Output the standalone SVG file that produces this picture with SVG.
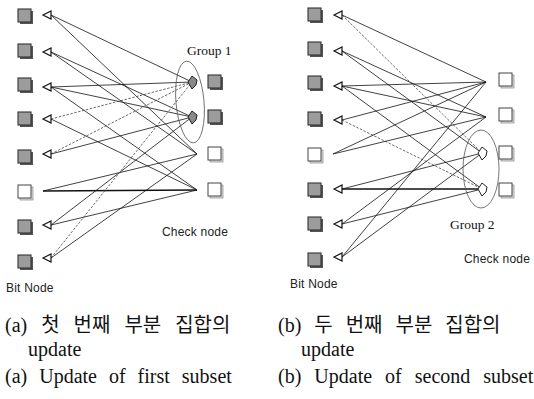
<svg xmlns="http://www.w3.org/2000/svg" width="534" height="399" viewBox="0 0 534 399">
<style>
.e{stroke:#111;stroke-width:0.8;fill:none}
.d{stroke:#444;stroke-width:0.8;fill:none;stroke-dasharray:2.5 1.5}
.t{stroke:#111;stroke-width:1.5;fill:none}
.g{fill:#9c9c9c;stroke:#333;stroke-width:1.1}
.gs{fill:#555}
.w{fill:#fff;stroke:#444;stroke-width:1}
.ws{fill:#ddd;stroke:#888;stroke-width:0.7}
.tri{fill:#fff;stroke:#111;stroke-width:1.2}
.dg{fill:#8a8a8a;stroke:#222;stroke-width:1}
.dw{fill:#fff;stroke:#222;stroke-width:1}
.el{fill:none;stroke:#555;stroke-width:0.8}
.lab{font-family:"Liberation Sans",Arial,sans-serif;font-size:12px;fill:#222;letter-spacing:0.2px}
.grp{font-family:"Liberation Serif","Times New Roman",serif;font-size:13.5px;fill:#111}
.cap{font-family:"Liberation Serif","Noto Sans CJK KR",serif;font-size:20px;fill:#111}
</style>

<!-- connectors -->
<g id="connectors">
  <!-- panel (a) -->
  <line class="e" x1="51" y1="15" x2="192" y2="82"/>
  <line class="e" x1="51" y1="15" x2="197" y2="154"/>
  <line class="e" x1="51" y1="52" x2="192" y2="117"/>
  <line class="e" x1="51" y1="52" x2="197" y2="154"/>
  <line class="e" x1="51" y1="87" x2="192" y2="82"/>
  <line class="e" x1="51" y1="87" x2="192" y2="117"/>
  <line class="e" x1="51" y1="87" x2="197" y2="190"/>
  <line class="d" x1="51" y1="119" x2="192" y2="82"/>
  <line class="e" x1="51" y1="119" x2="197" y2="190"/>
  <line class="d" x1="51" y1="154" x2="192" y2="82"/>
  <line class="e" x1="51" y1="154" x2="192" y2="117"/>
  <line class="e" x1="43" y1="191" x2="197" y2="154"/>
  <line class="t" x1="43" y1="191" x2="197" y2="190"/>
  <line class="e" x1="51" y1="225" x2="192" y2="117"/>
  <line class="e" x1="51" y1="225" x2="197" y2="190"/>
  <line class="d" x1="51" y1="258" x2="192" y2="82"/>
  <line class="e" x1="51" y1="258" x2="197" y2="154"/>
  <!-- panel (b) -->
  <line class="e" x1="342" y1="15" x2="486" y2="82"/>
  <line class="d" x1="342" y1="15" x2="482" y2="153"/>
  <line class="e" x1="342" y1="51" x2="486" y2="117"/>
  <line class="e" x1="342" y1="51" x2="482" y2="153"/>
  <line class="e" x1="342" y1="86" x2="486" y2="82"/>
  <line class="e" x1="342" y1="86" x2="486" y2="117"/>
  <line class="e" x1="342" y1="86" x2="482" y2="189"/>
  <line class="e" x1="342" y1="120" x2="486" y2="82"/>
  <line class="d" x1="342" y1="120" x2="482" y2="189"/>
  <line class="e" x1="333" y1="154" x2="486" y2="82"/>
  <line class="e" x1="333" y1="154" x2="486" y2="117"/>
  <line class="e" x1="342" y1="189" x2="482" y2="153"/>
  <line class="t" x1="342" y1="189" x2="482" y2="189"/>
  <line class="e" x1="342" y1="224" x2="486" y2="117"/>
  <line class="e" x1="342" y1="224" x2="482" y2="189"/>
  <line class="e" x1="342" y1="257" x2="486" y2="82"/>
  <line class="e" x1="342" y1="257" x2="482" y2="153"/>
</g>

<!-- panel (a) groups -->
<ellipse class="el" cx="190" cy="102" rx="14" ry="41" transform="rotate(-5 190 102)"/>
<text class="grp" x="187" y="55">Group 1</text>

<g id="a-bit1"><rect class="gs" x="20" y="11" width="13" height="13"/><rect class="g" x="18" y="9" width="13" height="13"/><polygon class="tri" points="43,15 51,11 51,19"/></g>
<g id="a-bit2"><rect class="gs" x="20" y="46" width="13" height="13"/><rect class="g" x="18" y="44" width="13" height="13"/><polygon class="tri" points="43,52 51,48 51,56"/></g>
<g id="a-bit3"><rect class="gs" x="20" y="80" width="13" height="13"/><rect class="g" x="18" y="78" width="13" height="13"/><polygon class="tri" points="43,87 51,83 51,91"/></g>
<g id="a-bit4"><rect class="gs" x="20" y="114" width="13" height="13"/><rect class="g" x="18" y="112" width="13" height="13"/><polygon class="tri" points="43,119 51,115 51,123"/></g>
<g id="a-bit5"><rect class="gs" x="20" y="152" width="13" height="13"/><rect class="g" x="18" y="150" width="13" height="13"/><polygon class="tri" points="43,154 51,150 51,158"/></g>
<g id="a-bit6"><rect class="ws" x="20" y="187" width="13" height="13"/><rect class="w" x="18" y="185" width="13" height="13"/></g>
<g id="a-bit7"><rect class="gs" x="20" y="222" width="13" height="13"/><rect class="g" x="18" y="220" width="13" height="13"/><polygon class="tri" points="43,225 51,221 51,229"/></g>
<g id="a-bit8"><rect class="gs" x="20" y="257" width="13" height="13"/><rect class="g" x="18" y="255" width="13" height="13"/><polygon class="tri" points="43,258 51,254 51,262"/></g>

<g id="a-check1"><rect class="gs" x="210" y="77" width="13" height="13"/><rect class="g" x="208" y="75" width="13" height="13"/><polygon class="dg" points="188,82 192,76 197,80 196,85 192,89"/></g>
<g id="a-check2"><rect class="gs" x="210" y="112" width="13" height="13"/><rect class="g" x="208" y="110" width="13" height="13"/><polygon class="dg" points="188,117 192,111 197,115 196,120 192,124"/></g>
<g id="a-check3"><rect class="ws" x="210" y="149" width="13" height="13"/><rect class="w" x="208" y="147" width="13" height="13"/></g>
<g id="a-check4"><rect class="ws" x="210" y="185" width="13" height="13"/><rect class="w" x="208" y="183" width="13" height="13"/></g>

<text class="lab" x="162" y="236">Check node</text>
<text class="lab" x="6" y="292">Bit Node</text>

<!-- panel (b) groups -->
<ellipse class="el" cx="481" cy="169" rx="18" ry="39"/>
<text class="grp" x="450" y="229">Group 2</text>

<g id="b-bit1"><rect class="gs" x="310" y="10" width="13" height="13"/><rect class="g" x="308" y="8" width="13" height="13"/><polygon class="tri" points="334,15 342,11 342,19"/></g>
<g id="b-bit2"><rect class="gs" x="310" y="44" width="13" height="13"/><rect class="g" x="308" y="42" width="13" height="13"/><polygon class="tri" points="334,51 342,47 342,55"/></g>
<g id="b-bit3"><rect class="gs" x="310" y="78" width="13" height="13"/><rect class="g" x="308" y="76" width="13" height="13"/><polygon class="tri" points="334,86 342,82 342,90"/></g>
<g id="b-bit4"><rect class="gs" x="310" y="114" width="13" height="13"/><rect class="g" x="308" y="112" width="13" height="13"/><polygon class="tri" points="334,120 342,116 342,124"/></g>
<g id="b-bit5"><rect class="ws" x="310" y="150" width="13" height="13"/><rect class="w" x="308" y="148" width="13" height="13"/></g>
<g id="b-bit6"><rect class="gs" x="310" y="185" width="13" height="13"/><rect class="g" x="308" y="183" width="13" height="13"/><polygon class="tri" points="334,189 342,185 342,193"/></g>
<g id="b-bit7"><rect class="gs" x="310" y="219" width="13" height="13"/><rect class="g" x="308" y="217" width="13" height="13"/><polygon class="tri" points="334,224 342,220 342,228"/></g>
<g id="b-bit8"><rect class="gs" x="310" y="255" width="13" height="13"/><rect class="g" x="308" y="253" width="13" height="13"/><polygon class="tri" points="334,257 342,253 342,261"/></g>

<g id="b-check1"><rect class="ws" x="501" y="75" width="13" height="13"/><rect class="w" x="499" y="73" width="13" height="13"/></g>
<g id="b-check2"><rect class="ws" x="501" y="110" width="13" height="13"/><rect class="w" x="499" y="108" width="13" height="13"/></g>
<g id="b-check3"><rect class="ws" x="501" y="148" width="13" height="13"/><rect class="w" x="499" y="146" width="13" height="13"/><polygon class="dw" points="478,153 482,147 487,151 486,156 482,160"/></g>
<g id="b-check4"><rect class="ws" x="501" y="185" width="13" height="13"/><rect class="w" x="499" y="183" width="13" height="13"/><polygon class="dw" points="478,189 482,183 487,187 486,192 482,196"/></g>

<text class="lab" x="464" y="263">Check node</text>
<text class="lab" x="290" y="288">Bit Node</text>

<!-- captions -->
<text class="cap" x="5" y="332" word-spacing="9">(a) 첫 번째 부분 집합의</text>
<text class="cap" x="28" y="356">update</text>
<text class="cap" x="5" y="383" word-spacing="7">(a) Update of first subset</text>
<text class="cap" x="278" y="332" word-spacing="8">(b) 두 번째 부분 집합의</text>
<text class="cap" x="301" y="356">update</text>
<text class="cap" x="278" y="383" word-spacing="8">(b) Update of second subset</text>
</svg>
